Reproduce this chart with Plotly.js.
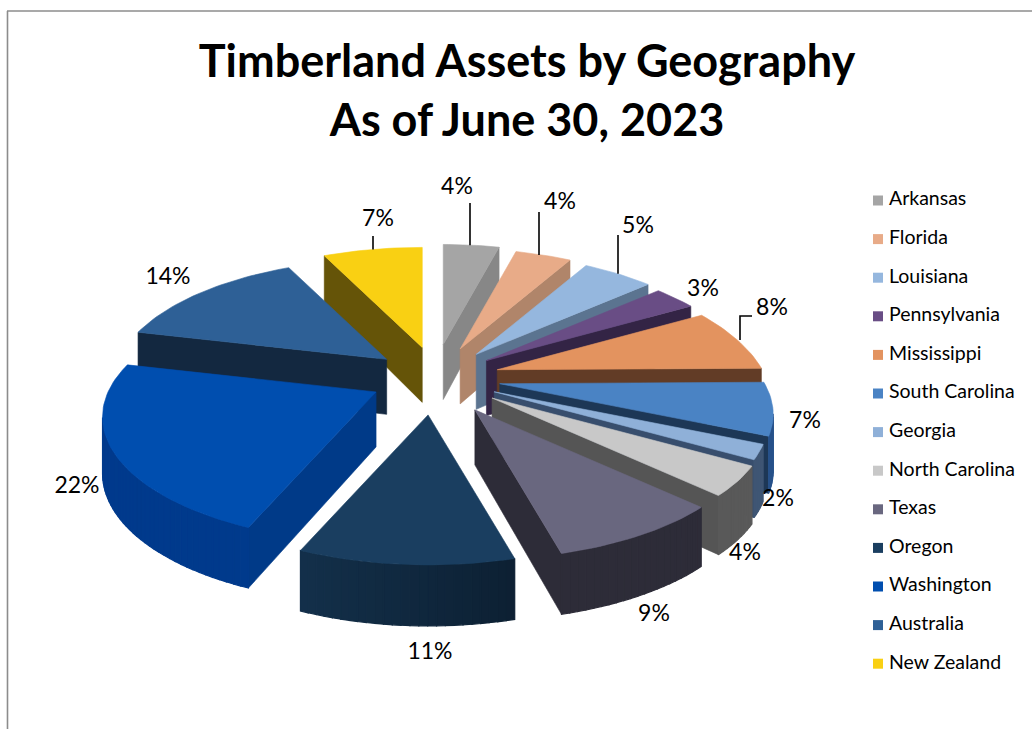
<!DOCTYPE html>
<html>
<head>
<meta charset="utf-8">
<script src="https://cdn.plot.ly/plotly-3.0.1.min.js"></script>
<style>html,body{margin:0;padding:0;background:#fff}#chart{width:1032px;height:729px}</style>
</head>
<body>
<div id="chart"></div>
<script>
// ---- data ----
const categories = ["Arkansas","Florida","Louisiana","Pennsylvania","Mississippi","South Carolina","Georgia","North Carolina","Texas","Oregon","Washington","Australia","New Zealand"];
const values = [4,4,5,3,8,7,2,4,8.8,10.55,22.45,14.1,7.1];

// ---- styles ----
const topColors  = ["#a5a5a5","#e8ab88","#95b7de","#694d85","#e3935f","#4a83c4","#8fb0d8","#c8c8c8","#69677f","#1a3e60","#004eaf","#2e6096","#f9d013"];
const cutColors  = ["#878787","#b0856a","#5b7490","#332445","#623c26","#1d3756","#384e6d","#555555","#2d2c38","#0f273c","#003a88","#132840","#655408"];
const arcColors  = ["#878787","#b0856a","#5b7490","#332445","#623c26","#27518a","#3f5674","#595959","#2d2c38","#13304b","#003a8c","#132840","#655408"];
const arcFalloff = [0,0,0,0,0,0,0,0,0,0.5,0,0,0];
const explodeX   = [0.29,0.27,0.26,0.25,0.25,0.25,0.25,0.27,0.30,0.30,0.24,0.225,0.19];
const explodeY   = [0.29,0.27,0.26,0.25,0.25,0.25,0.25,0.27,0.30,0.30,0.24,0.26,0.27];
// label centres, and the outer end of the leader line where there is one
const labelX = [457,560,638,703,772,805,778,745,654,430,77,168,378];
const labelY = [188,203,227,290,309,422,500,554,615,653,487,278,220];
const leaderPath = [[[470,203]],[[539,212]],[[618,235]],null,[[752,316],[740,316]],null,null,null,null,null,null,null,[[373,236]]];

// ---- projection of the tilted pie ----
const CX = 433.5, CY = 379, RX = 268, RY = 120, K = 0.2, DEPTH = 55;
function rel(deg){
  const a = deg*Math.PI/180, u = Math.sin(a), v = -Math.cos(a), p = 1/(1-K*v);
  return {x: RX*u*p, y: RY*v*p + 6*(1-v*v)*Math.max(0,u), u, v};
}
const total = values.reduce((a,b)=>a+b,0);
const slices = [];
let cum = 0;
values.forEach((val,i)=>{
  const start = cum/total*360; cum += val; const end = cum/total*360, mid = (start+end)/2;
  const a = mid*Math.PI/180;
  slices.push({i,start,end,mid,
    tx: CX + explodeX[i]*RX*Math.sin(a),
    ty: CY - explodeY[i]*RY*Math.cos(a)});
});
function shade(hex,f){
  const n = parseInt(hex.slice(1),16);
  const c = [n>>16,(n>>8)&255,n&255].map(q=>Math.max(0,Math.min(255,Math.round(q*f))));
  return "rgb("+c.join(",")+")";
}
function poly(xs,ys,color,w){
  return {type:"scatter",mode:"lines",x:xs.concat(xs[0]),y:ys.concat(ys[0]),fill:"toself",fillcolor:color,
    line:{color:color,width:w===undefined?0.6:w},hoverinfo:"skip",showlegend:false};
}
const depthAt = v => DEPTH + 6*v;
const traces = [];
// far slices are painted first
slices.slice().sort((a,b)=>(-Math.cos(a.mid*Math.PI/180))-(-Math.cos(b.mid*Math.PI/180))).forEach(s=>{
  const i = s.i, P = d => { const r = rel(d); return {x:s.tx+r.x, y:s.ty+r.y, v:r.v, u:r.u}; };
  const ps = P(s.start), pe = P(s.end);
  if (ps.x < s.tx) traces.push(poly([s.tx,ps.x,ps.x,s.tx],[s.ty,ps.y,ps.y+depthAt(ps.v),s.ty+DEPTH],cutColors[i]));
  if (pe.x > s.tx) traces.push(poly([s.tx,pe.x,pe.x,s.tx],[s.ty,pe.y,pe.y+depthAt(pe.v),s.ty+DEPTH],cutColors[i]));
  // outer wall, split in narrow bands for the soft shading
  const bands = Math.max(3,Math.round((s.end-s.start)/1.5));
  for (let b=0;b<bands;b++){
    const d0 = s.start+(s.end-s.start)*b/bands, d1 = s.start+(s.end-s.start)*(b+1)/bands;
    const p0 = P(d0), p1 = P(d1);
    if (p1.x >= p0.x) continue;
    const um = (p0.u+p1.u)/2, f = 1-arcFalloff[i]*(um+0.4);
    const xs=[p0.x,p1.x,p1.x,p0.x], ys=[p0.y,p1.y,p1.y+depthAt(p1.v),p0.y+depthAt(p0.v)];
    traces.push(poly(xs,ys,shade(arcColors[i],f),1.2));
  }
  // top face
  const xs=[s.tx], ys=[s.ty];
  const n = Math.max(4,Math.ceil((s.end-s.start)/1.5));
  for (let k=0;k<=n;k++){ const p=P(s.start+(s.end-s.start)*k/n); xs.push(p.x); ys.push(p.y); }
  traces.push(poly(xs,ys,topColors[i]));
});

// leader lines run from the middle of each slice's rim to the label
const lx=[], ly=[];
slices.forEach(s=>{
  const path = leaderPath[s.i]; if(!path) return;
  const r = rel(s.mid);
  path.forEach(p=>{lx.push(p[0]);ly.push(p[1]);});
  lx.push(path[path.length-1][0]); ly.push(s.ty+r.y); lx.push(null); ly.push(null);
});
traces.push({type:"scatter",mode:"lines",x:lx,y:ly,line:{color:"#000",width:1.6},hoverinfo:"skip",showlegend:false});

// percentage labels
traces.push({type:"scatter",mode:"text",x:labelX,y:labelY,text:values.map(v=>Math.round(v)+"%"),textposition:"middle center",
  textfont:{family:"Lato, Carlito, sans-serif",size:23,color:"#000"},hoverinfo:"skip",showlegend:false});

// legend column
const legendTop = 200.5, legendStep = 38.6;
const legendY = categories.map((c,i)=>legendTop+i*legendStep);
traces.push({type:"scatter",mode:"markers",x:categories.map(()=>878),y:legendY,
  marker:{symbol:"square",size:10,color:topColors,line:{width:0}},hoverinfo:"skip",showlegend:false});
traces.push({type:"scatter",mode:"text",x:categories.map(()=>889),y:legendY,text:categories,textposition:"middle right",
  textfont:{family:"Lato, Carlito, sans-serif",size:19.5,color:"#000"},hoverinfo:"skip",showlegend:false});

const hidden = {visible:false,fixedrange:true};
const layout = {
  width:1032,height:729,margin:{l:0,r:0,t:0,b:0},paper_bgcolor:"#fff",plot_bgcolor:"#fff",showlegend:false,hovermode:false,
  xaxis:Object.assign({range:[0,1032]},hidden),
  yaxis:Object.assign({range:[729,0]},hidden),
  title:{text:"<b>Timberland Assets by Geography<br>As of June 30, 2023</b>",x:527/1032,xanchor:"center",y:0.894,yanchor:"bottom",
    font:{family:"Lato, Carlito, sans-serif",size:45,color:"#000"}},
  shapes:[{type:"line",xref:"x",yref:"y",x0:7.5,x1:7.5,y0:11,y1:729,line:{color:"#8c8c8c",width:1.6}},
          {type:"line",xref:"x",yref:"y",x0:7,x1:1032,y0:11,y1:11,line:{color:"#8c8c8c",width:1.6}}]
};
Plotly.newPlot("chart",traces,layout,{displayModeBar:false,staticPlot:true});
</script>
</body>
</html>
